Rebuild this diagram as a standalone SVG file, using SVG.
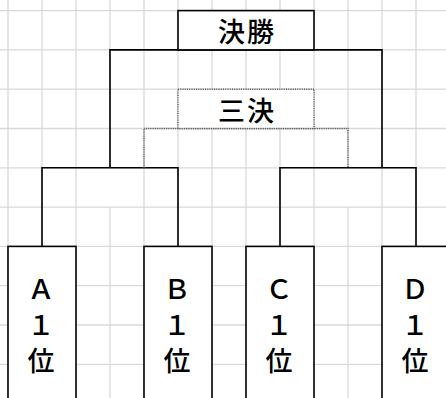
<svg xmlns="http://www.w3.org/2000/svg" width="446" height="398" viewBox="0 0 446 398">
<style>
.grid line{stroke:#d9d9d9;stroke-width:1.3}
.box{fill:#fff;stroke:#000;stroke-width:1.6}
.dot{fill:#fff;stroke:#5a5a5a;stroke-width:1.4;stroke-dasharray:1 0.8}
.wire{fill:none;stroke:#000;stroke-width:1.6}
.dwire{fill:none;stroke:#5a5a5a;stroke-width:1.4;stroke-dasharray:1 0.8}
text{font-family:"Noto Sans CJK JP","Noto Sans",sans-serif;font-size:27px;font-weight:500;fill:#000;text-anchor:middle}
</style>
<rect width="446" height="398" fill="#fff"/>
<g class="grid">
<line x1="8" y1="0" x2="8" y2="398"/>
<line x1="42" y1="0" x2="42" y2="398"/>
<line x1="76" y1="0" x2="76" y2="398"/>
<line x1="110" y1="0" x2="110" y2="167.8"/>
<line x1="110" y1="207.1" x2="110" y2="398"/>
<line x1="144" y1="0" x2="144" y2="398"/>
<line x1="178" y1="0" x2="178" y2="398"/>
<line x1="212" y1="0" x2="212" y2="398"/>
<line x1="246" y1="0" x2="246" y2="398"/>
<line x1="280" y1="0" x2="280" y2="398"/>
<line x1="314" y1="0" x2="314" y2="398"/>
<line x1="348" y1="0" x2="348" y2="167.8"/>
<line x1="348" y1="207.1" x2="348" y2="398"/>
<line x1="382" y1="0" x2="382" y2="398"/>
<line x1="416" y1="0" x2="416" y2="398"/>
<line x1="0" y1="10.6" x2="446" y2="10.6"/>
<line x1="0" y1="49.9" x2="446" y2="49.9"/>
<line x1="0" y1="89.2" x2="446" y2="89.2"/>
<line x1="0" y1="128.5" x2="446" y2="128.5"/>
<line x1="0" y1="167.8" x2="446" y2="167.8"/>
<line x1="0" y1="207.1" x2="446" y2="207.1"/>
<line x1="0" y1="246.4" x2="446" y2="246.4"/>
<line x1="0" y1="285.7" x2="446" y2="285.7"/>
<line x1="0" y1="325" x2="446" y2="325"/>
<line x1="0" y1="364.3" x2="446" y2="364.3"/>
</g>
<g id="connectors">
<path class="wire" d="M42,246.4 V167.8 H178 V246.4"/>
<path class="wire" d="M280,246.4 V167.8 H416 V246.4"/>
<path class="wire" d="M110,167.8 V49.9 H382 V167.8"/>
<path class="dwire" d="M144,167.8 V128.5 H348 V167.8"/>
</g>
<g id="final">
<rect class="box" x="178" y="10.6" width="136" height="39.3"/>
<text x="247" y="30.8" dominant-baseline="central" font-size="28" letter-spacing="2">決勝</text>
</g>
<g id="third">
<rect class="dot" x="178" y="89.2" width="136" height="39.3"/>
<text x="247" y="109.5" dominant-baseline="central" font-size="28" letter-spacing="2">三決</text>
</g>
<g id="teamA">
<rect class="box" x="8" y="246.4" width="68" height="170"/>
<text x="41" y="299.2">Ａ</text>
<text x="41" y="334.8">１</text>
<text x="41" y="370.6">位</text>
</g>
<g id="teamB">
<rect class="box" x="144" y="246.4" width="68" height="170"/>
<text x="177" y="299.2">Ｂ</text>
<text x="177" y="334.8">１</text>
<text x="177" y="370.6">位</text>
</g>
<g id="teamC">
<rect class="box" x="246" y="246.4" width="68" height="170"/>
<text x="279" y="299.2">Ｃ</text>
<text x="279" y="334.8">１</text>
<text x="279" y="370.6">位</text>
</g>
<g id="teamD">
<rect class="box" x="382" y="246.4" width="68" height="170"/>
<text x="415" y="299.2">Ｄ</text>
<text x="415" y="334.8">１</text>
<text x="415" y="370.6">位</text>
</g>
</svg>
